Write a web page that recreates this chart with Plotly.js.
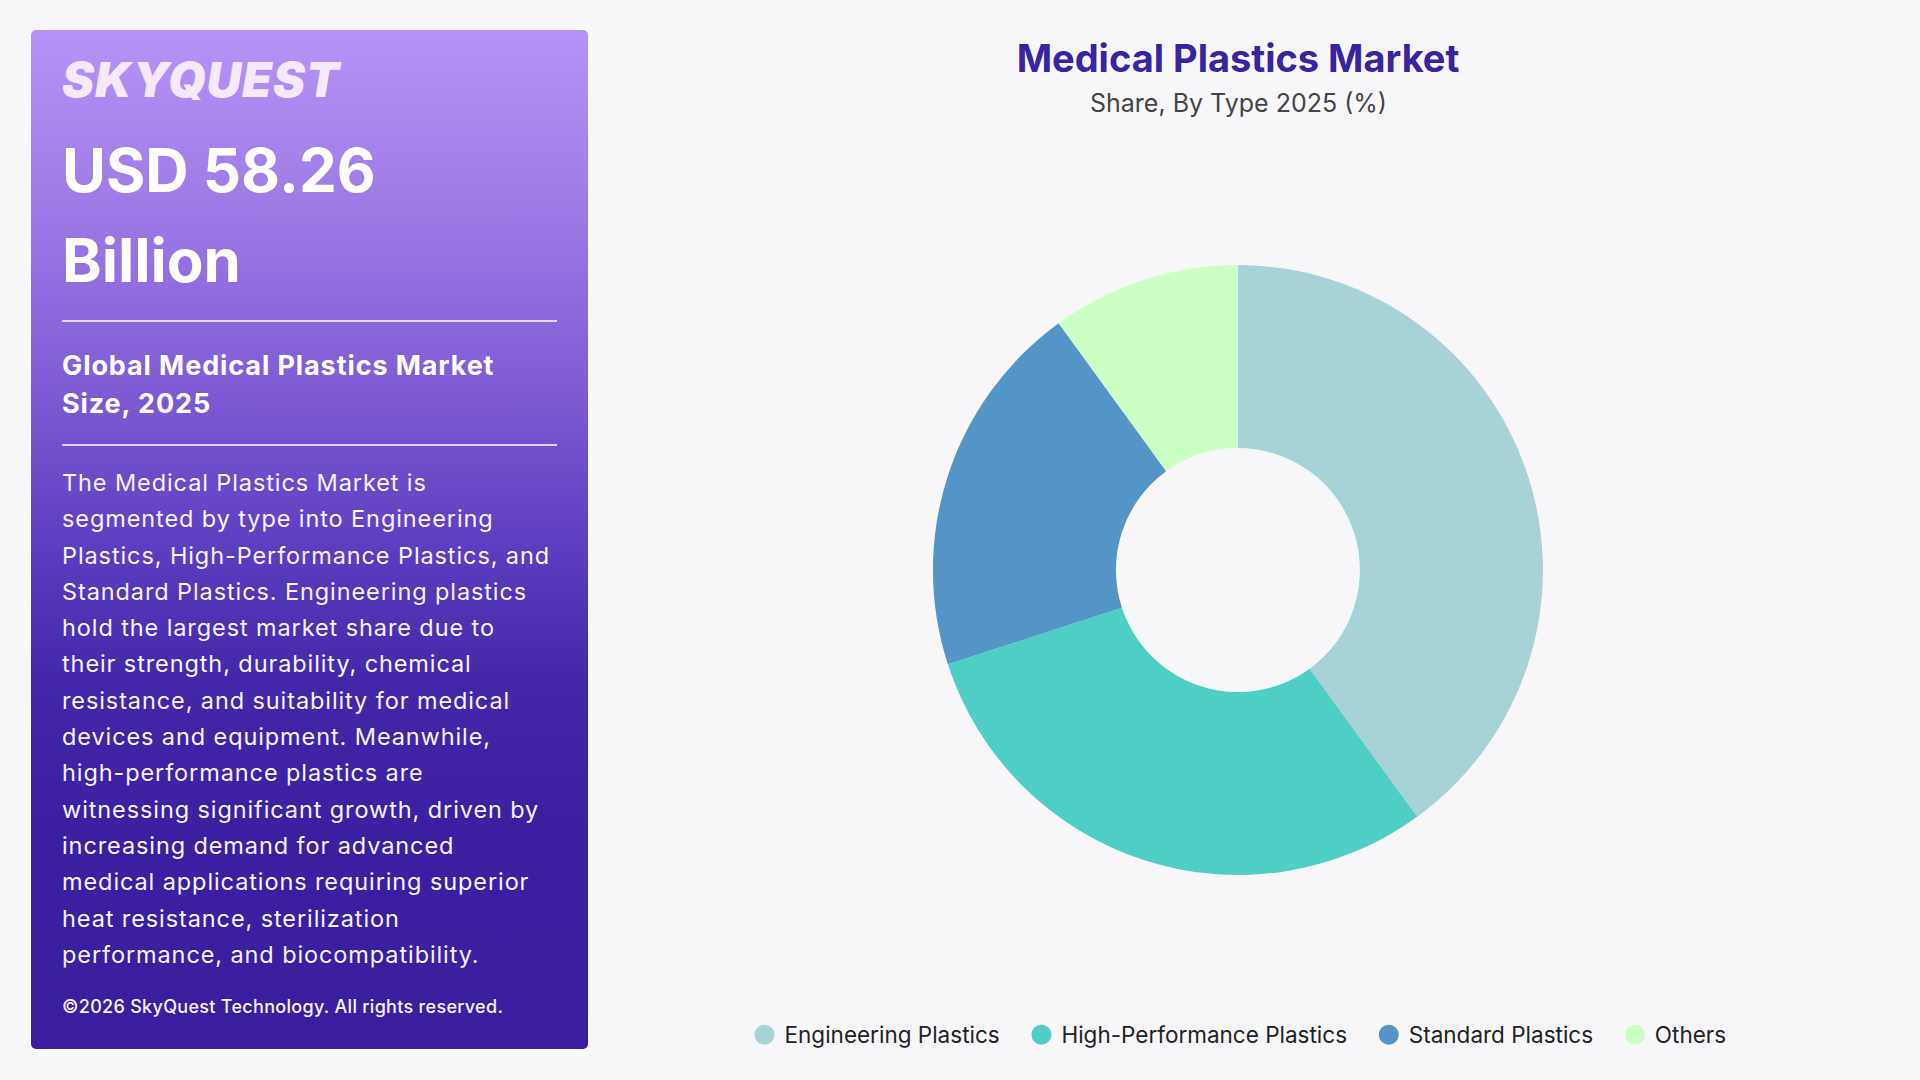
<!DOCTYPE html>
<html>
<head>
<meta charset="utf-8">
<script src="https://cdn.plot.ly/plotly-3.0.1.min.js"></script>
<style>
  html, body { margin: 0; padding: 0; background: #F7F7FA; }
  body { width: 1920px; height: 1080px; position: relative; overflow: hidden; font-family: Inter, "Open Sans", sans-serif; }
  #chart { position: absolute; left: 0; top: 0; width: 1920px; height: 1080px; }
  #panel {
    position: absolute; left: 31px; top: 30px; width: 557px; height: 1019px;
    border-radius: 5px;
    background: linear-gradient(180deg, #B792F6 0%, #9D79E6 18%, #7D5AD3 36%, #5A3BBE 52%, #4327A8 64%, #3B1FA0 78%, #3A1E9E 100%);
    color: #fff;
  }
  .t { position: absolute; left: 31px; white-space: nowrap; }
  #logo { top: 20px; font-size: 48px; line-height: 60px; font-weight: 900; font-style: italic; color: #F6E8FB; letter-spacing: 1px; }
  #big { top: 95px; font-size: 60px; line-height: 90px; font-weight: 700; }
  #sub { top: 317px; font-size: 27px; line-height: 38px; font-weight: 700; letter-spacing: 0.9px; }
  #para { top: 435px; font-size: 23.5px; line-height: 36.3px; font-weight: 400; color: #F6F3FD; letter-spacing: 0.9px; }
  #copy { top: 965px; font-size: 18px; line-height: 24px; font-weight: 500; color: #F6F3FD; letter-spacing: 0.3px; }
  .rule { position: absolute; left: 31px; width: 495px; height: 2px; background: rgba(255,255,255,0.75); }
</style>
</head>
<body>
<div id="chart"></div>
<div id="panel">
  <div class="t" id="logo">SKYQUEST</div>
  <div class="t" id="big">USD 58.26<br>Billion</div>
  <div class="rule" style="top:290px"></div>
  <div class="t" id="sub">Global Medical Plastics Market<br>Size, 2025</div>
  <div class="rule" style="top:414px"></div>
  <div class="t" id="para">The Medical Plastics Market is<br>segmented by type into Engineering<br>Plastics, High-Performance Plastics, and<br>Standard Plastics. Engineering plastics<br>hold the largest market share due to<br>their strength, durability, chemical<br>resistance, and suitability for medical<br>devices and equipment. Meanwhile,<br>high-performance plastics are<br>witnessing significant growth, driven by<br>increasing demand for advanced<br>medical applications requiring superior<br>heat resistance, sterilization<br>performance, and biocompatibility.</div>
  <div class="t" id="copy">©2026 SkyQuest Technology. All rights reserved.</div>
</div>
<script>
const categories = ["Engineering Plastics", "High-Performance Plastics", "Standard Plastics", "Others"];
const shares = [40, 30, 20, 10];
const colors = ["#A7D2D7", "#4FCEC5", "#5395C6", "#CCFFC4"];
const chartTitle = "Medical Plastics Market";
const chartSubtitle = "Share, By Type 2025 (%)";

const FONT = "Inter, 'Open Sans', sans-serif";
const PAD = "\u00A0\u00A0\u2009";

const traces = [{
  type: "pie",
  labels: categories,
  values: shares,
  marker: { colors: colors, line: { width: 0 } },
  hole: 0.4,
  sort: false,
  direction: "clockwise",
  rotation: 0,
  textinfo: "none",
  hoverinfo: "label+percent",
  showlegend: false,
  domain: { x: [0.4859, 0.8036], y: [0.1898, 0.7546] }
}];

categories.forEach((c, i) => {
  traces.push({
    type: "scatter",
    mode: "markers",
    x: [null], y: [null],
    name: i < categories.length - 1 ? c + PAD : c,
    marker: { color: colors[i], size: 16, symbol: "circle" },
    showlegend: true,
    hoverinfo: "skip"
  });
});

const layout = {
  width: 1920, height: 1080,
  margin: { l: 0, r: 0, t: 0, b: 0 },
  paper_bgcolor: "#F7F7FA",
  plot_bgcolor: "rgba(0,0,0,0)",
  font: { family: FONT, color: "#222" },
  xaxis: { visible: false, domain: [0.9, 0.95] },
  yaxis: { visible: false, domain: [0.9, 0.95] },
  title: {
    text: "<b>" + chartTitle + "</b>",
    font: { family: FONT, size: 38, color: "#3A22A0" },
    x: 0.6448, xanchor: "center", xref: "paper",
    y: 1 - 59 / 1080, yanchor: "middle", yref: "container"
  },
  annotations: [{
    text: chartSubtitle,
    xref: "paper", yref: "paper",
    x: 0.6448, y: 1 - 103 / 1080,
    xanchor: "center", yanchor: "middle",
    showarrow: false,
    font: { family: FONT, size: 25, color: "#444" }
  }],
  legend: {
    orientation: "h",
    x: 0.6448, xanchor: "center",
    y: 1 - 1035 / 1080, yanchor: "middle",
    font: { family: FONT, size: 22.5, color: "#222" },
    itemwidth: 30,
    bgcolor: "rgba(0,0,0,0)"
  },
  showlegend: true
};

function enlargeLegendDots() {
  document.querySelectorAll("#chart .legend path.scatterpts, #chart .legend .scatterpts path").forEach(p => {
    p.setAttribute("d", "M10,0A10,10 0 1,1 0,-10A10,10 0 0,1 10,0Z");
  });
}

Plotly.newPlot("chart", traces, layout, { displayModeBar: false }).then(gd => {
  enlargeLegendDots();
  gd.on("plotly_afterplot", enlargeLegendDots);
});
</script>
</body>
</html>
